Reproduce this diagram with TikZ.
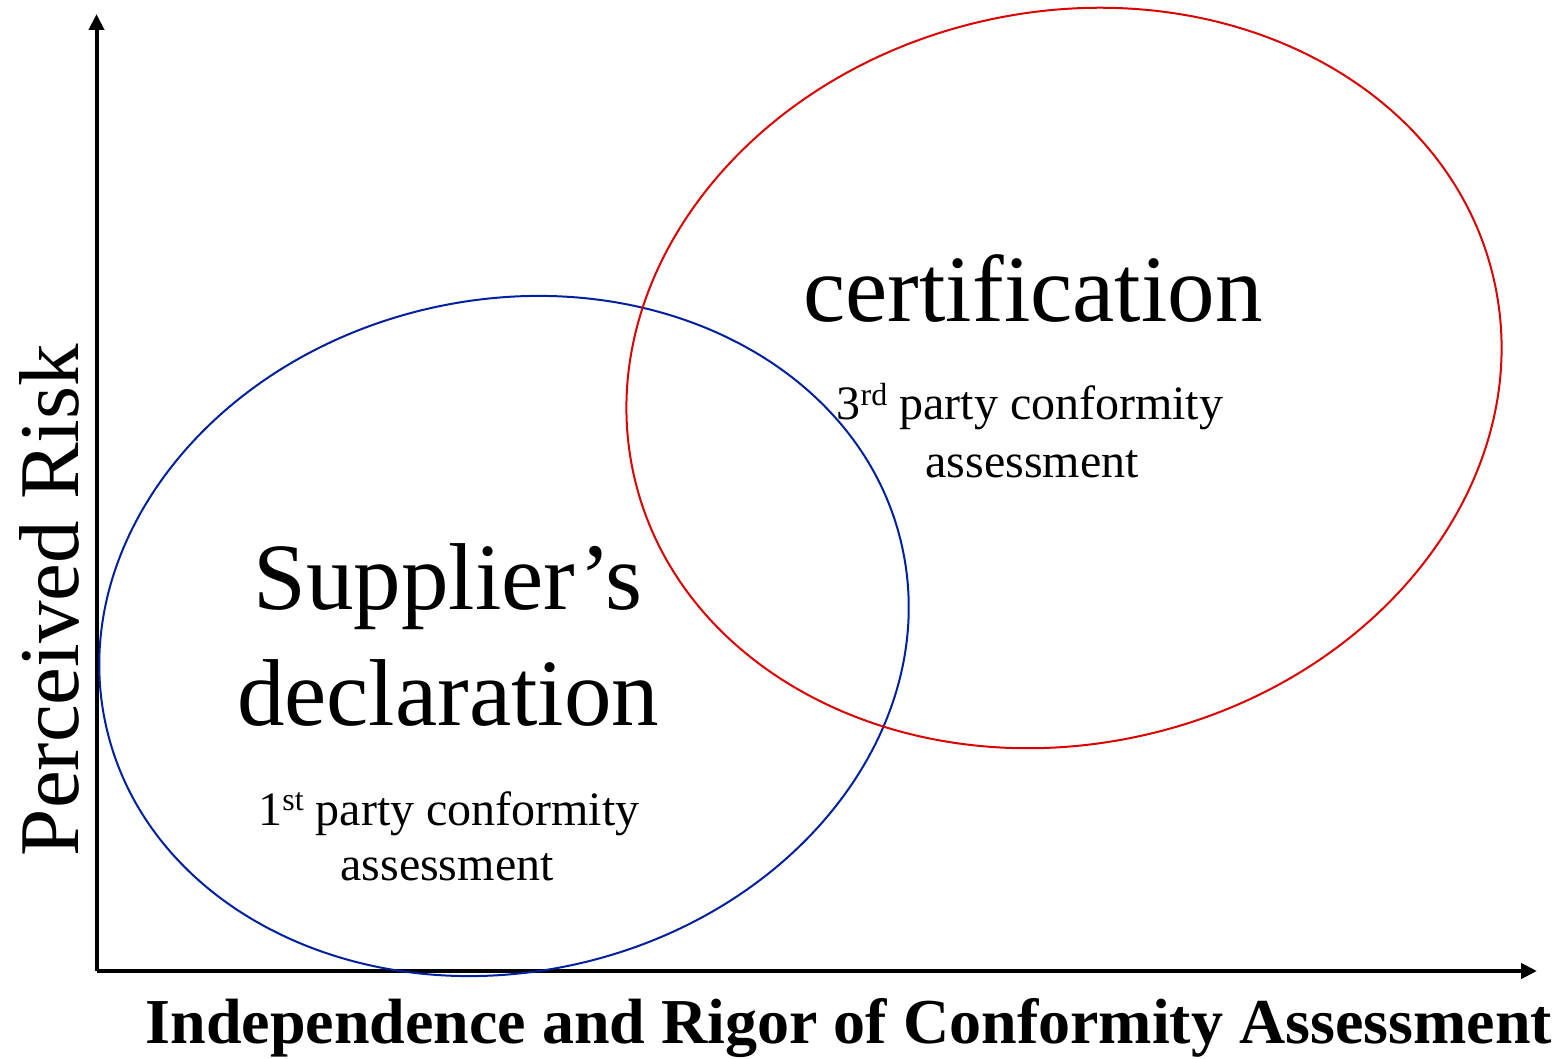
\documentclass[tikz,border=0pt]{standalone}
\usepackage{fontspec}
\setmainfont{Liberation Serif}
\usetikzlibrary{arrows.meta, positioning}

\definecolor{declblue}{RGB}{0,32,160}
\definecolor{certred}{RGB}{220,0,0}

% raised ordinal suffix
\newcommand{\ordsup}[1]{\raisebox{0.31em}{\fontsize{32}{36}\selectfont #1}}

\tikzset{
    axis/.style={line width=4pt, -{Triangle[length=16pt,width=15pt]}},
    bigtext/.style={anchor=base, inner sep=0pt, font=\fontsize{95}{114}\selectfont},
    smalltext/.style={anchor=base, inner sep=0pt, font=\fontsize{48}{58}\selectfont},
}

\begin{document}
\begin{tikzpicture}[x=1pt, y=1pt]
    \useasboundingbox (0,0) rectangle (1557,1058);

    % Axes
    \coordinate (origin) at (96.5,87);
    \coordinate (ytip) at (96.5,1044);
    \coordinate (xtip) at (1537,87);
    \draw[axis] (origin) -- (ytip);
    \draw[axis] (origin) -- (xtip);

    % Axis labels
    \node[anchor=base, inner sep=0pt, rotate=90, font=\fontsize{85}{100}\selectfont]
        (ylabel) at (78,458) {Perceived Risk};
    \node[anchor=base, inner sep=0pt, font=\bfseries\fontsize{64}{76}\selectfont]
        (xlabel) at (849,15) {Independence and Rigor of Conformity Assessment};

    % Supplier's declaration ellipse
    \draw[declblue, line width=2pt, rotate around={13:(504,422)}]
        (504,422) ellipse (408 and 336);

    % Certification ellipse
    \draw[certred, line width=2pt, rotate around={13:(1064,680)}]
        (1064,680) ellipse (441 and 366);

    % Certification text
    \node[bigtext] (cert) at (1033,736) {certification};
    \node[smalltext] (certsub) at (1030,638) {3\ordsup{rd} party conformity};
    \node[smalltext] (certsubb) at (1032,580) {assessment};

    % Supplier's declaration text
    \node[bigtext] (supp) at (448,448) {Supplier’s};
    \node[bigtext] (decl) at (448,333) {declaration};
    \node[smalltext] (suppsub) at (449,233) {1\ordsup{st} party conformity};
    \node[smalltext] (suppsubb) at (447,178) {assessment};
\end{tikzpicture}
\end{document}
